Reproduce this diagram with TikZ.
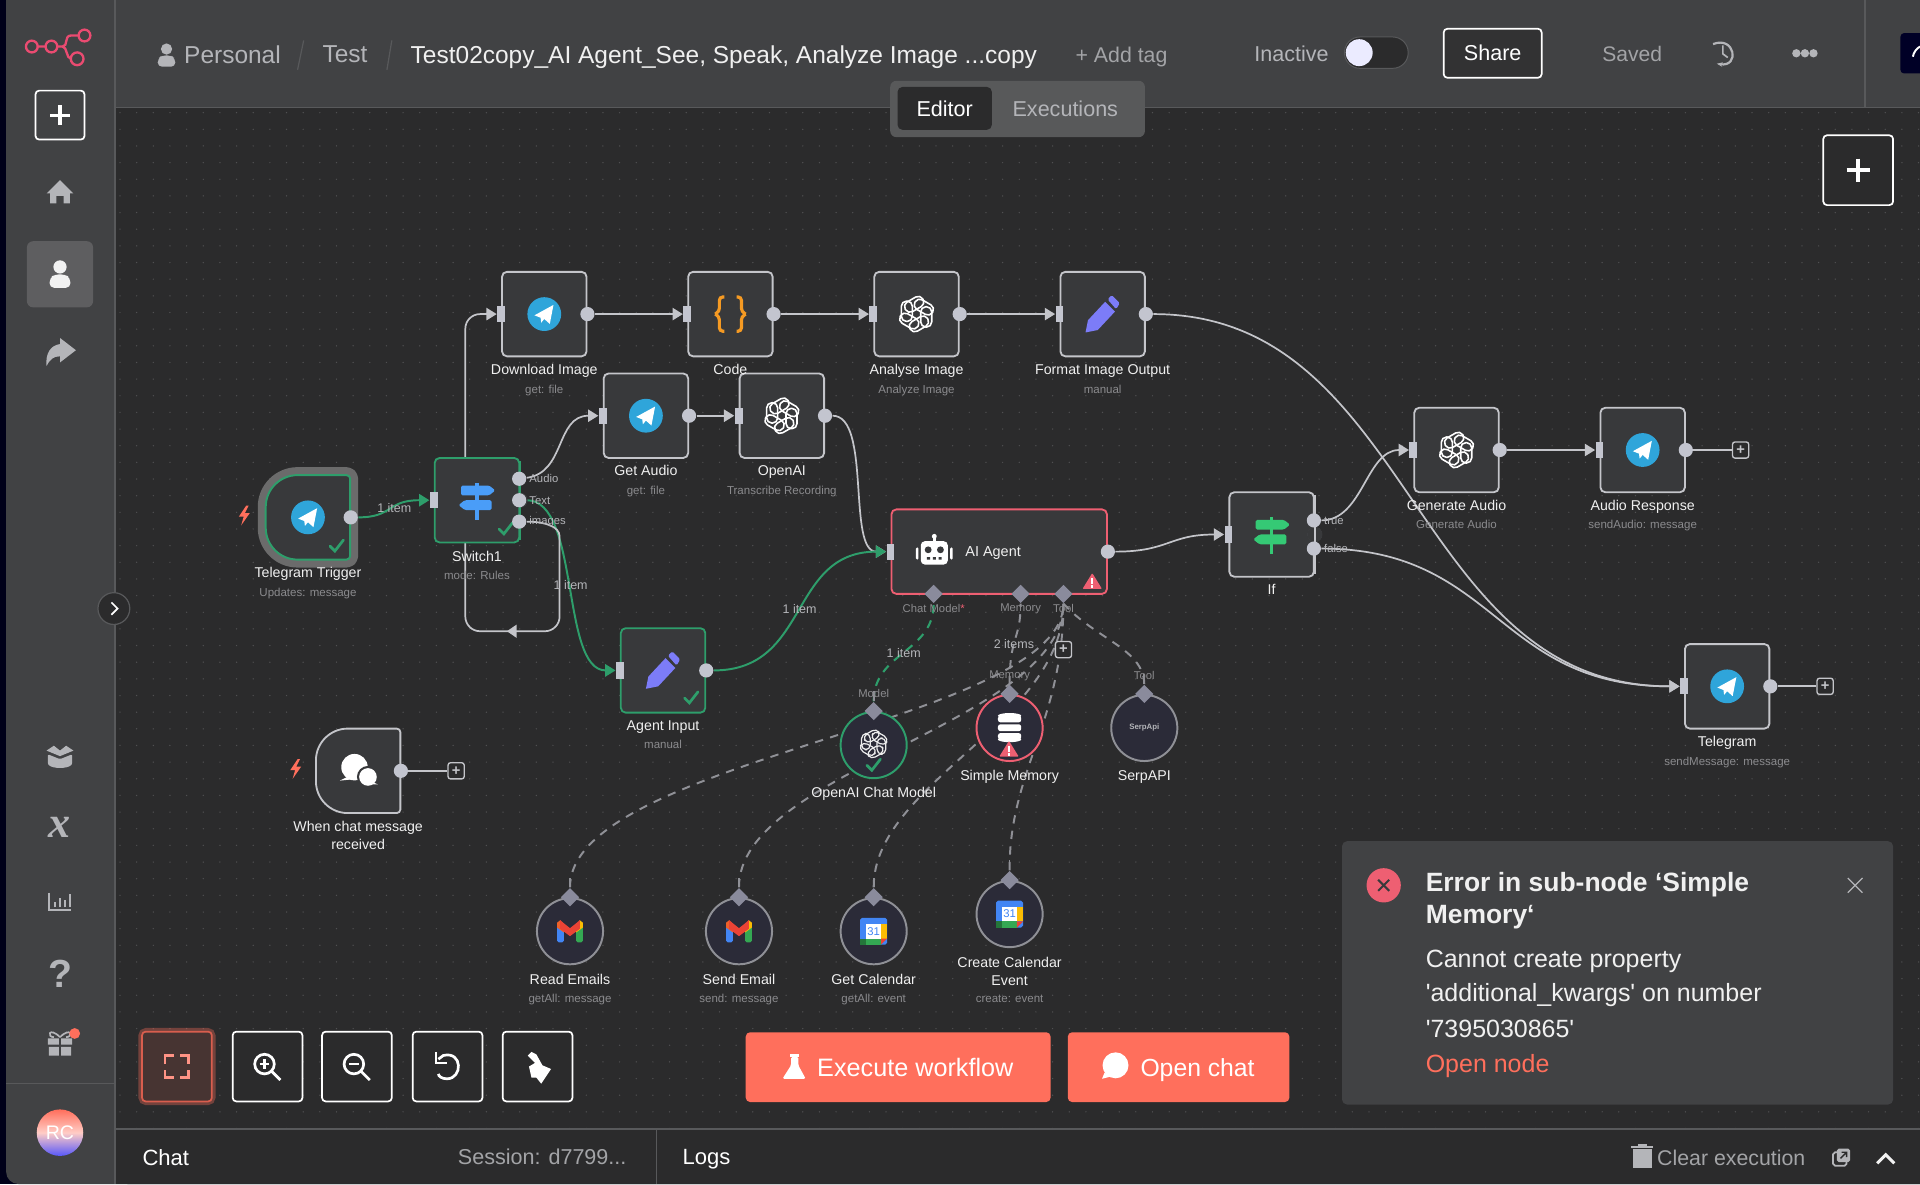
\documentclass[tikz,border=0pt]{standalone}
\usepackage{fontspec}
\setmainfont{Liberation Sans}
\newfontfamily\serifx{Liberation Serif}
\newfontfamily\lsans{Liberation Sans}
\usetikzlibrary{arrows.meta,shapes.geometric,calc}
\pgfdeclarelayer{bg}\pgfdeclarelayer{conn}\pgfsetlayers{bg,conn,main}
\definecolor{canvas}{HTML}{2B2B2C}
\definecolor{panel}{HTML}{414244}
\definecolor{sep}{HTML}{58595B}
\definecolor{griddot}{HTML}{505052}
\definecolor{nfill}{HTML}{38393B}
\definecolor{nline}{HTML}{C4C5CA}
\definecolor{okgreen}{HTML}{2E9E6B}
\definecolor{errred}{HTML}{EE5F72}
\definecolor{txtw}{HTML}{F0F0F0}
\definecolor{txts}{HTML}{8B8B8E}
\definecolor{txtm}{HTML}{A3A4A7}
\definecolor{uig}{HTML}{B4B5B9}
\definecolor{port}{HTML}{C3C5CF}
\definecolor{subfill}{HTML}{2B2B38}
\definecolor{subline}{HTML}{8F9096}
\definecolor{dia}{HTML}{8A8B9C}
\definecolor{tgblue}{HTML}{2FA5DA}
\definecolor{purple1}{HTML}{7C7CF8}
\definecolor{coral}{HTML}{FF6F5C}
\definecolor{pink1}{HTML}{EA4B71}
\definecolor{sblue}{HTML}{4A9DF8}
\definecolor{sgreen}{HTML}{35C975}
\definecolor{gred}{HTML}{EA4335}
\definecolor{gblue}{HTML}{4285F4}
\definecolor{ggreen}{HTML}{34A853}
\definecolor{gyel}{HTML}{FBBC04}
\definecolor{brace}{HTML}{F59A23}
\tikzset{
  x=0.5pt,y=-0.5pt,
  nbox/.style={draw=nline,fill=nfill,line width=.75pt,rounded corners=2pt,minimum size=34.5pt,inner sep=0},
  inport/.style={fill=port,minimum width=3.2pt,minimum height=6.6pt,inner sep=0},
  outport/.style={circle,fill=port,minimum size=5.8pt,inner sep=0},
  ntitle/.style={text=txtw,font=\fontsize{5.8}{7.4}\selectfont,align=center,inner sep=0,text height=.74em,text depth=.2em,yshift=.85pt},
  ntitle2/.style={text=txtw,font=\fontsize{5.8}{7.4}\selectfont,align=center,inner sep=0},
  nsub/.style={text=txts,font=\fontsize{4.7}{6}\selectfont,align=center,inner sep=0,text height=.74em,text depth=.2em,yshift=.85pt},
  nport/.style={text=txts,font=\fontsize{4.6}{6}\selectfont,inner sep=0},
  wlab/.style={text=uig,font=\fontsize{5.1}{6}\selectfont,inner sep=0},
  wire/.style={draw=nline,line width=.7pt,-{Triangle[length=4.2pt,width=5pt]}},
  okwire/.style={draw=okgreen,line width=.8pt,-{Triangle[length=4.2pt,width=5pt]}},
  plain/.style={draw=nline,line width=.7pt},
  subwire/.style={draw=subline,line width=.8pt,dash pattern=on 3.4pt off 3pt},
  oksub/.style={draw=okgreen,line width=.85pt,dash pattern=on 3.4pt off 3pt},
  stub/.style={draw=subline,line width=.7pt},
  subn/.style={circle,draw=subline,fill=subfill,line width=.8pt,minimum size=27pt,inner sep=0},
  dia/.style={diamond,fill=dia,minimum size=7.6pt,inner sep=0},
  plusb/.style={draw=nline,fill=canvas,line width=.55pt,rounded corners=1pt,minimum size=6.6pt,inner sep=0,
     font=\fontsize{6}{6}\selectfont\bfseries,text=nline},
  tool/.style={draw=white,fill=canvas,line width=.7pt,rounded corners=1.5pt,minimum size=28.5pt,inner sep=0},
  ui/.style={inner sep=0,font=\fontsize{10}{12}\selectfont,text=uig},
  uiw/.style={inner sep=0,font=\fontsize{10}{12}\selectfont,text=txtw},
  chk/.style={draw=okgreen,line width=1.1pt,line cap=round},
}
\newcommand{\wnode}[4][]{\node[nbox,#1] (#2) at (#3,#4) {};\node[inport] (#2-i) at (#2.west) {};\node[outport] (#2-o) at (#2.east) {};}
\newcommand{\okmark}[2]{\draw[chk] (#1,#2) ++(-5,0) -- ++(4,4) -- ++(7,-9);}
\newcommand{\warnmark}[2]{\begin{scope}[shift={(#1,#2)}]\fill[errred,rounded corners=.4pt] (0,-7) -- (8,6) -- (-8,6) -- cycle;\fill[white] (-1,-3) rectangle (1,2);\fill[white] (-1,3) rectangle (1,5);\end{scope}}
\newcommand{\bolt}[2]{\fill[coral] (#1,#2) ++(1,-9) -- ++(-6,9) -- ++(4,0) -- ++(-2,7) -- ++(7,-10) -- ++(-4,0) -- ++(3,-6) -- cycle;}
\newcommand{\tgicon}[1]{\begin{scope}[shift={(#1)}]\fill[tgblue] (0,0) circle (6.9pt);\fill[white] (-8,1) -- (7.5,-7.5) -- (4.5,8) -- (0,4) -- (-2.5,7) -- (-3,3) -- cycle;\end{scope}}
\newcommand{\gptknot}[3]{\begin{scope}[shift={(#1)},scale=#2]\foreach \a in {0,60,...,300}{\draw[#3,line join=round,rotate=\a,rounded corners=2.1pt] (1.7pt,-5.3pt) rectangle (6.2pt,3pt);}\end{scope}}
\newcommand{\pencil}[1]{\begin{scope}[shift={(#1)}]\fill[purple1] (-14,15) -- (-12,5) -- (2,-10) -- (10,-2) -- (-4,13) -- cycle;\fill[purple1,rounded corners=.6pt] (4,-12) -- (7.5,-15.5) -- (14,-9) -- (11,-4) -- cycle;\end{scope}}
\newcommand{\signpost}[2]{\begin{scope}[shift={(#1)}]\fill[#2] (-1.5,-14) rectangle (1.5,16);\fill[#2,rounded corners=.6pt] (-13,-12) -- (10,-12) -- (15,-8) -- (10,-4) -- (-13,-4) -- cycle;\fill[#2,rounded corners=.6pt] (12,0) -- (-10,0) -- (-15,4) -- (-10,8) -- (12,8) -- cycle;\end{scope}}
\newcommand{\usericon}[4]{\begin{scope}[shift={(#1,#2)},scale=#3]\fill[#4] (0,-7) circle (2.7pt);\fill[#4,rounded corners=1.8pt] (-8.5,10) -- (-8.5,2) -- (-4,-1) -- (4,-1) -- (8.5,2) -- (8.5,10) -- cycle;\end{scope}}
\begin{document}
\begin{tikzpicture}
\useasboundingbox (0,0) rectangle (1568,966.93);
\begin{pgfonlayer}{bg}
\fill[black!90!blue] (0,0) rectangle (1568,966.93);
\fill[panel,rounded corners=5pt] (5,-20) rectangle (1600,966.93);
\fill[canvas,rounded corners=5pt] (94,88) rectangle (1600,966.93);
\fill[canvas] (94,88) rectangle (1568,930);
\foreach \i in {0,...,108}{\foreach \j in {0,...,61}{\fill[griddot] ({98+13.6*\i},{92+13.6*\j}) circle (.3pt);}}
\fill[canvas] (94,923) rectangle (1566,966.93);
\draw[sep,line width=.6pt] (94,88) -- (1568,88);
\draw[sep,line width=.5pt] (94,0) -- (94,966.93);
\draw[sep,line width=.6pt] (94,922) -- (1568,922);
\draw[sep,line width=.6pt] (536,922) -- (536,966.93);
\draw[sep,line width=.5pt] (1523,0) -- (1523,88);
\draw[sep,line width=.5pt] (5,885) -- (94,885);
\end{pgfonlayer}
% ---------- header
\draw[pink1,line width=.95pt] (26,38) circle (2.4pt) (42,38) circle (2.4pt) (63,48) circle (2.6pt) (69,29) circle (2.4pt);
\draw[pink1,line width=.95pt] (31,38) -- (37,38) (47,38) -- (51,38) .. controls (56,38) and (52,29) .. (58,29) -- (64,29) (51,38) .. controls (55,38) and (54,48) .. (58,48);
\usericon{136}{46}{.85}{uig}
\node[ui,anchor=west] (hper) at (150,44.5) {Personal};
\draw[sep,line width=.5pt] (243,57) -- (248,33) (316,57) -- (320,33);
\node[ui,anchor=west] (htest) at (263,44.5) {Test};
\node[uiw,anchor=west] (htitle) at (335,46.5) {Test02copy\_AI Agent\_See, Speak, Analyze Image ...copy};
\node[ui,anchor=west,font=\fontsize{8.7}{10}\selectfont,text=txtm] (htag) at (878,46.5) {+ Add tag};
\node[ui,anchor=west,font=\fontsize{8.8}{10}\selectfont] (hina) at (1024,44) {Inactive};
\node[fill=canvas,draw=sep,line width=.4pt,rounded corners=6.3pt,minimum width=26pt,minimum height=12.8pt,inner sep=0] (htog) at (1124,43) {};
\node[circle,fill=white!92!blue,minimum size=11pt,inner sep=0] (hknob) at (1110,43) {};
\node[draw=white,fill=canvas!70!panel,line width=.7pt,rounded corners=1.5pt,minimum width=40pt,minimum height=20pt,inner sep=0,font=\fontsize{8.8}{10}\selectfont,text=white] (hshare) at (1219,43.5) {Share};
\node[ui,font=\fontsize{8.6}{10}\selectfont,text=txtm] (hsaved) at (1333,44) {Saved};
\draw[uig,line width=.9pt,->,>={Stealth[length=2.4pt]}] (1399,36) .. controls (1417,29) and (1421,55) .. (1402,52);
\draw[uig,line width=.7pt] (1407,37) -- (1407,44) -- (1411,47);
\fill[uig] (1467,43.5) circle (1.7pt) (1474,43.5) circle (1.7pt) (1481,43.5) circle (1.7pt);
\fill[black!85!blue,rounded corners=1.5pt] (1552,27) rectangle (1575,60);
\draw[white,line width=.8pt] (1568,38) arc[start angle=120,end angle=170,radius=6pt];
% tabs
\node[fill=panel!88!white,rounded corners=2.5pt,minimum width=104pt,minimum height=23pt,inner sep=0] (tabs) at (831,89) {};
\node[fill=canvas,rounded corners=2pt,minimum width=38.5pt,minimum height=17.5pt,inner sep=0,font=\fontsize{8.8}{10}\selectfont,text=white] (teditor) at (771.5,88.5) {Editor};
\node[ui,font=\fontsize{8.8}{10}\selectfont] (texec) at (870,88.5) {Executions};
% ---------- sidebar
\node[tool,minimum size=20pt,fill=panel] (splus) at (49,94) {};
\draw[white,line width=1.3pt] (41,94) -- (57,94) (49,86) -- (49,102);
\fill[uig] (49,147) -- (60,158) -- (57,158) -- (57,166) -- (52,166) -- (52,160) -- (46,160) -- (46,166) -- (41,166) -- (41,158) -- (38,158) -- cycle;
\fill[panel!85!white,rounded corners=2.5pt] (22,197) rectangle (76,251);
\usericon{49}{225}{1}{white!90!gray}
\fill[uig] (49,276) -- (62,286) -- (49,296) -- (49,291) .. controls (44,291) and (41,293) .. (38,299) .. controls (37,289) and (41,282) .. (49,281) -- cycle;
\fill[uig,rounded corners=.5pt] (39,616) -- (49,620) -- (59,616) -- (59,624) .. controls (55,628) and (43,628) .. (39,624) -- cycle;
\fill[uig] (38,613) -- (44,609) -- (49,613) -- (54,609) -- (60,613) -- (49,617.5) -- cycle;
\node[inner sep=0,font=\serifx\itshape\bfseries\fontsize{18}{18}\selectfont,text=uig] (svar) at (49,676) {x};
\draw[uig,line width=.9pt] (40,729) -- (40,743) -- (58,743);
\draw[uig,line width=1pt] (45,741) -- (45,737) (49,741) -- (49,733) (53,741) -- (53,735) (57,741) -- (57,730);
\node[inner sep=0,font=\fontsize{16}{16}\selectfont\bfseries,text=uig] (shelp) at (49,795) {?};
\fill[uig] (39,848) rectangle (48,853) (50,848) rectangle (59,853) (40,855) rectangle (48,862) (50,855) rectangle (58,862);
\draw[uig,line width=.7pt] (49,847) .. controls (40,838) and (38,847) .. (44,847) (49,847) .. controls (58,838) and (60,847) .. (54,847);
\fill[coral] (61,844) circle (2.2pt);
\shade[top color=coral,bottom color=purple1!70!blue,middle color=coral!35!white] (49,925) circle (9.5pt);
\node[inner sep=0,font=\fontsize{8}{9}\selectfont,text=white] (savatar) at (49,925) {RC};
\node[circle,draw=sep,fill=canvas,line width=.5pt,minimum size=13pt,inner sep=0] (scoll) at (93,497) {};
\draw[white,line width=.7pt] (91,492) -- (96,497) -- (91,502);
% ---------- workflow nodes
\wnode{dl}{444.5}{256.5}
\wnode{code}{596.5}{256.5}
\wnode{an}{748.5}{256.5}
\wnode{fmt}{900.5}{256.5}
\wnode{ga}{527.5}{339.5}
\wnode{oa}{638.5}{339.5}
\wnode[draw=okgreen]{sw}{389.5}{408.5}
\wnode[draw=okgreen]{ai}{541.5}{547.5}
\wnode{ifn}{1038.5}{436.5}
\wnode{gen}{1189.5}{367.5}
\wnode{ar}{1341.5}{367.5}
\wnode{tg}{1410.5}{560.5}
\node[nbox,draw=errred,minimum width=88pt] (agent) at (816,450.5) {};
\node[inport] (agent-i) at (agent.west) {};
\node[outport] (agent-o) at (agent.east) {};
% triggers
\node[minimum size=34.5pt,inner sep=0] (tt) at (251.5,422.5) {};
\begin{scope}[shift={(tt.center)}]
\draw[draw=white!30!canvas,line width=6.5pt,fill=nfill,line join=round] (-4.25pt,17.25pt) -- (15.75pt,17.25pt) arc[start angle=90,end angle=0,radius=1.5pt] -- (17.25pt,-15.75pt) arc[start angle=0,end angle=-90,radius=1.5pt] -- (-4.25pt,-17.25pt) arc[start angle=-90,end angle=-180,radius=13pt] -- (-17.25pt,4.25pt) arc[start angle=180,end angle=90,radius=13pt] -- cycle;
\draw[draw=okgreen,line width=.8pt,fill=nfill] (-4.25pt,17.25pt) -- (15.75pt,17.25pt) arc[start angle=90,end angle=0,radius=1.5pt] -- (17.25pt,-15.75pt) arc[start angle=0,end angle=-90,radius=1.5pt] -- (-4.25pt,-17.25pt) arc[start angle=-90,end angle=-180,radius=13pt] -- (-17.25pt,4.25pt) arc[start angle=180,end angle=90,radius=13pt] -- cycle;
\end{scope}
\node[outport] (tt-o) at (tt.east) {};
\node[minimum size=34.5pt,inner sep=0] (ct) at (292.5,629.5) {};
\begin{scope}[shift={(ct.center)}]
\draw[draw=nline,line width=.75pt,fill=nfill] (-4.25pt,17.25pt) -- (15.75pt,17.25pt) arc[start angle=90,end angle=0,radius=1.5pt] -- (17.25pt,-15.75pt) arc[start angle=0,end angle=-90,radius=1.5pt] -- (-4.25pt,-17.25pt) arc[start angle=-90,end angle=-180,radius=13pt] -- (-17.25pt,4.25pt) arc[start angle=180,end angle=90,radius=13pt] -- cycle;
\end{scope}
\node[outport] (ct-o) at (ct.east) {};
\bolt{200}{422}
\bolt{242}{629}
% icons
\tgicon{tt.center}\tgicon{dl.center}\tgicon{ga.center}\tgicon{ar.center}\tgicon{tg.center}
\gptknot{an.center}{1}{white,line width=.65pt}
\gptknot{oa.center}{1}{white,line width=.65pt}
\gptknot{gen.center}{1}{white,line width=.65pt}
\begin{scope}[shift={(code.center)}]
\draw[brace,line width=1.3pt,rounded corners=1.4pt] (-5,-14) -- (-9,-14) -- (-9,-2) -- (-12.5,0);
\draw[brace,line width=1.3pt,rounded corners=1.4pt] (-12.5,0) -- (-9,2) -- (-9,14) -- (-5,14);
\draw[brace,line width=1.3pt,rounded corners=1.4pt] (5,-14) -- (9,-14) -- (9,-2) -- (12.5,0);
\draw[brace,line width=1.3pt,rounded corners=1.4pt] (12.5,0) -- (9,2) -- (9,14) -- (5,14);
\end{scope}
\pencil{fmt.center}\pencil{ai.center}
\signpost{sw.center}{sblue}
\signpost{ifn.center}{sgreen}
\okmark{274.5}{446}\okmark{412.5}{432}\okmark{564}{570}
\warnmark{892}{475}
% chat bubble
\begin{scope}[shift={(ct.center)}]
\fill[white] (-3,-3) circle (5.4pt);\fill[white] (-9,5) -- (-15,8) -- (-5,7) -- cycle;
\fill[nfill] (8,5) circle (4.5pt);\fill[white] (8,5) circle (3.6pt);\fill[white] (11,9) -- (16,11) -- (6,11) -- cycle;
\end{scope}
% robot
\begin{scope}[shift={(763,451)}]
\fill[white,rounded corners=1.6pt] (-11,-9) rectangle (11,10);
\fill[white,rounded corners=.5pt] (-15,-4) rectangle (-13,6) (13,-4) rectangle (15,6);
\fill[white] (-1,-13) rectangle (1,-9);\fill[white] (0,-13) circle (1pt);
\fill[nfill] (-5,-2) circle (1.4pt) (5,-2) circle (1.4pt);
\fill[nfill] (-6,4) rectangle (-3.5,6) (-1.2,4) rectangle (1.2,6) (3.5,4) rectangle (6,6);
\end{scope}
\node[ntitle,anchor=west,font=\fontsize{5.9}{8}\selectfont] (agentl) at (788,451) {AI Agent};
% sub nodes
\node[subn,draw=okgreen] (cm) at (713.5,608.5) {};
\node[subn,draw=errred] (sm) at (824.5,594.5) {};
\node[subn] (sp) at (934.5,594.5) {};
\node[subn] (re) at (465.5,760.5) {};
\node[subn] (se) at (603.5,760.5) {};
\node[subn] (gc) at (713.5,760.5) {};
\node[subn] (cc) at (824.5,746.5) {};
\node[dia] (d-cm) at (cm.north) {};
\node[dia] (d-sm) at (sm.north) {};
\node[dia] (d-sp) at (sp.north) {};
\node[dia] (d-re) at (re.north) {};
\node[dia] (d-se) at (se.north) {};
\node[dia] (d-gc) at (gc.north) {};
\node[dia] (d-cc) at (cc.north) {};
\node[dia] (d-chat) at (762.5,485) {};
\node[dia] (d-mem) at (833.5,485) {};
\node[dia] (d-tool) at (868.5,485) {};
\gptknot{713.5,607.5}{.8}{white!85!gray,line width=.5pt}
\okmark{713}{625}
\begin{scope}[shift={(sm.center)}]
\fill[white,rounded corners=1pt] (-9.5,-10) rectangle (9.5,-4.6);\fill[white] (0,-10) ellipse [x radius=4.75pt,y radius=1.1pt];
\fill[white,rounded corners=1pt] (-9.5,-3) rectangle (9.5,2.6);
\fill[white,rounded corners=1pt] (-9.5,4.2) rectangle (9.5,9.4);\fill[white] (0,9.4) ellipse [x radius=4.75pt,y radius=1.1pt];
\end{scope}
\warnmark{824}{612}
\node[inner sep=0,font=\fontsize{3.2}{4}\selectfont\bfseries,text=uig] (spt) at (sp.center) {SerpApi};
% Gmail
\foreach \nm in {re,se}{\begin{scope}[shift={(\nm.center)}]
\fill[gblue,rounded corners=.6pt] (-10.5,-4) rectangle (-5,9);
\fill[ggreen,rounded corners=.6pt] (5,-4) rectangle (10.5,9);
\fill[gyel] (5,-5) -- (8,-9) -- (10.5,-7) -- (10.5,-3) -- (5,1) -- cycle;
\fill[gred!75!gyel] (-10.5,-7) -- (-8,-9) -- (-5,-6) -- (-5,1) -- (-10.5,-3) -- cycle;
\fill[gred] (-8,-9) -- (-5,-6.5) -- (0,-2.5) -- (5,-6.5) -- (8,-9) -- (8,-2) -- (0,4) -- (-8,-2) -- cycle;
\end{scope}}
% Calendar
\foreach \nm in {gc,cc}{\begin{scope}[shift={(\nm.center)}]
\fill[gblue,rounded corners=.8pt] (-11,-11) rectangle (11,11);
\fill[white] (-6,-6) rectangle (6,6);
\fill[gyel] (6,-6) rectangle (11,6);
\fill[ggreen] (-6,6) rectangle (6,11);\fill[ggreen!70!black] (-11,6) rectangle (-6,11);
\fill[gred] (6,6) -- (11,6) -- (6,11) -- cycle;
\node[inner sep=0,font=\fontsize{4.6}{5}\selectfont,text=gblue] (l\nm) at (0,0) {31};
\end{scope}}
% ---------- plus boxes
\node[plusb] (pl-ct) at (372.5,629.5) {+};
\node[plusb] (pl-ar) at (1421.5,367.5) {+};
\node[plusb] (pl-tg) at (1490.5,560.5) {+};
\node[plusb] (pl-tool) at (868.5,530.5) {+};
% switch / if ports
\fill[nfill] (ifn-o) circle (3.1pt);\draw[draw=nline,line width=.75pt] ($(ifn.south east)+(0,1.5pt)$) -- ($(ifn.north east)+(0,-1.5pt)$);
\fill[nfill] (sw-o) circle (3.1pt);\draw[draw=okgreen,line width=.75pt] ($(sw.south east)+(0,1.5pt)$) -- ($(sw.north east)+(0,-1.5pt)$);
\node[outport] (if-t) at (1073,425) {};
\node[outport] (if-f) at (1073,448) {};
\node[outport] (sw-a) at (424,391) {};
\node[outport] (sw-t) at (424,408.5) {};
\node[outport] (sw-m) at (424,426) {};
\node[nport,anchor=west,text=uig] (l-aud) at (432,391) {Audio};
\node[nport,anchor=west,text=uig] (l-txt) at (432,408.5) {Text};
\node[nport,anchor=west,text=uig] (l-img) at (432,426) {images};
\node[nport,anchor=west,text=uig] (l-tr) at (1081,425) {true};
\node[nport,anchor=west,text=uig] (l-fa) at (1081,448) {false};
% ---------- connectors
\begin{pgfonlayer}{conn}
\draw[okwire] (tt-o) .. controls +(35,0) and +(-35,0) .. (sw-i.west);
\draw[wire] (dl-o) -- (code-i.west);
\draw[wire] (code-o) -- (an-i.west);
\draw[wire] (an-o) -- (fmt-i.west);
\draw[wire] (ga-o) -- (oa-i.west);
\draw[wire] (gen-o) -- (ar-i.west);
\draw[wire] (sw-a) .. controls +(38,-5) and +(-35,0) .. (ga-i.west);
\draw[okwire] (sw-t) .. controls +(50,0) and +(-45,0) .. (ai-i.west);
\draw[wire,rounded corners=6pt] (sw-m) .. controls (445,426) and (457,430) .. (457,450) -- (457,515.5) -- (380,515.5) -- (380,256.5) -- (dl-i.west);
\fill[nline] (414,515.5) -- (422,510) -- (422,521) -- cycle;
\draw[wire] (oa-o) .. controls +(38,0) and +(-32,0) .. (agent-i.west);
\draw[okwire] (ai-o) .. controls +(85,0) and +(-80,0) .. (agent-i.west);
\draw[wire] (agent-o) .. controls +(50,0) and +(-45,0) .. (ifn-i.west);
\draw[wire] (if-t) .. controls +(40,0) and +(-35,0) .. (gen-i.west);
\draw[wire] (if-f) .. controls +(150,0) and +(-150,0) .. (tg-i.west);
\draw[wire] (fmt-o) .. controls +(220,0) and +(-220,0) .. (tg-i.west);
\draw[plain] (ar-o) -- (pl-ar);
\draw[plain] (tg-o) -- (pl-tg);
\draw[plain] (ct-o) -- (pl-ct);
\draw[oksub] (d-cm.north) .. controls +(0,-40) and +(0,40) .. (d-chat.south);
\draw[subwire] (d-sm.north) .. controls +(0,-40) and +(0,30) .. (d-mem.south);
\draw[subwire] (d-sp.north) .. controls (934,530) and (895,522) .. (d-tool.south);
\draw[subwire] (d-re.north) .. controls (465,620) and (868,590) .. (d-tool.south);
\draw[subwire] (d-se.north) .. controls (603,630) and (868,590) .. (d-tool.south);
\draw[subwire] (d-gc.north) .. controls (713,640) and (868,590) .. (d-tool.south);
\draw[subwire] (d-cc.north) .. controls (824,630) and (868,590) .. (d-tool.south);
\foreach \n in {re,se,gc,cc,cm,sp,sm}{\draw[stub] (d-\n.north) -- ++(0,-8);}
\end{pgfonlayer}
% ---------- labels
\node[wlab] (w1) at (322,415) {1 item};
\node[wlab] (w2) at (466,477.5) {1 item};
\node[wlab] (w3) at (653,497.5) {1 item};
\node[wlab] (w4) at (738,533) {1 item};
\node[wlab] (w5) at (828,526) {2 items};
\node[ntitle] (t-dl) at (444.5,302.5) {Download Image};
\node[nsub] (s-dl) at (444.5,317.5) {get: file};
\node[ntitle] (t-code) at (596.5,302.5) {Code};
\node[ntitle] (t-an) at (748.5,302.5) {Analyse Image};
\node[nsub] (s-an) at (748.5,317.5) {Analyze Image};
\node[ntitle] (t-fmt) at (900.5,302.5) {Format Image Output};
\node[nsub] (s-fmt) at (900.5,317.5) {manual};
\node[ntitle] (t-ga) at (527.5,385) {Get Audio};
\node[nsub] (s-ga) at (527.5,400.5) {get: file};
\node[ntitle] (t-oa) at (638.5,385) {OpenAI};
\node[nsub] (s-oa) at (638.5,400.5) {Transcribe Recording};
\node[ntitle] (t-tt) at (251.5,468) {Telegram Trigger};
\node[nsub] (s-tt) at (251.5,483.5) {Updates: message};
\node[ntitle] (t-sw) at (389.5,454.5) {Switch1};
\node[nsub] (s-sw) at (389.5,469.5) {mode: Rules};
\node[ntitle] (t-ai) at (541.5,592.5) {Agent Input};
\node[nsub] (s-ai) at (541.5,607.5) {manual};
\node[ntitle2] (t-ct) at (292.5,682) {When chat message\\received};
\node[ntitle] (t-ifn) at (1038.5,481.5) {If};
\node[ntitle] (t-gen) at (1189.5,413) {Generate Audio};
\node[nsub] (s-gen) at (1189.5,428) {Generate Audio};
\node[ntitle] (t-ar) at (1341.5,413) {Audio Response};
\node[nsub] (s-ar) at (1341.5,428) {sendAudio: message};
\node[ntitle] (t-tg) at (1410.5,606) {Telegram};
\node[nsub] (s-tg) at (1410.5,621.5) {sendMessage: message};
\node[ntitle] (t-cm) at (713.5,647.5) {OpenAI Chat Model};
\node[ntitle] (t-sm) at (824.5,634) {Simple Memory};
\node[ntitle] (t-sp) at (934.5,634) {SerpAPI};
\node[ntitle] (t-re) at (465.5,800) {Read Emails};
\node[nsub] (s-re) at (465.5,815) {getAll: message};
\node[ntitle] (t-se) at (603.5,800) {Send Email};
\node[nsub] (s-se) at (603.5,815) {send: message};
\node[ntitle] (t-gc) at (713.5,800) {Get Calendar};
\node[nsub] (s-gc) at (713.5,815) {getAll: event};
\node[ntitle2] (t-cc) at (824.5,793) {Create Calendar\\Event};
\node[nsub] (s-cc) at (824.5,815) {create: event};
\node[nport] (p-chat) at (762.5,497) {Chat Model\textcolor{errred}{*}};
\node[nport] (p-mem) at (833.5,497) {Memory};
\node[nport] (p-tool) at (868.5,497) {Tool};
\node[nport] (p-model) at (713.5,566) {Model};
\node[nport] (p-mem2) at (824.5,552) {Memory};
\node[nport] (p-tool2) at (934.5,552) {Tool};
% ---------- canvas top-right plus
\node[tool] (cplus) at (1517.5,139) {};
\draw[white,line width=1.4pt] (1508,139) -- (1527,139) (1517.5,129.5) -- (1517.5,148.5);
% ---------- bottom tools
\node[tool,draw=coral,draw opacity=.35,line width=3.5pt,fill=none,minimum size=28pt] (bhalo) at (144.5,871) {};
\node[tool,draw=coral!85!black,fill=coral!13!canvas] (bfit) at (144.5,871) {};
\draw[coral!75!white,line width=.9pt] (135,869) -- (135,862) -- (142,862) (147,862) -- (154,862) -- (154,869) (154,874) -- (154,880) -- (147,880) (142,880) -- (135,880) -- (135,874);
\node[tool] (bzi) at (218.5,871) {};
\node[tool] (bzo) at (291.5,871) {};
\node[tool] (bund) at (365.5,871) {};
\node[tool] (bcl) at (439,871) {};
\draw[white,line width=1.1pt] (216,869) circle (4pt) (222,875) -- (229,882);
\draw[white,line width=.9pt] (212,869) -- (220,869) (216,865) -- (216,873);
\draw[white,line width=1.1pt] (289,869) circle (4pt) (295,875) -- (302,882);
\draw[white,line width=.9pt] (285,869) -- (293,869);
\draw[white,line width=1.1pt] (358,865) -- (362,862) .. controls (378,858) and (378,881) .. (365,881) .. controls (361,881) and (358,879) .. (358,877);
\draw[white,line width=1pt] (356,859) -- (356,868) -- (365,868);
\fill[white] (438,861) -- (443,870) -- (450,873) -- (442,885) -- (438,880) -- (434,880) -- (432,871) -- (437,868) -- (431,862) -- (434,859) -- cycle;
% ---------- run buttons
\node[fill=coral,rounded corners=1.8pt,minimum width=124.5pt,minimum height=28.5pt,inner sep=0] (bexec) at (733.5,871.5) {};
\node[fill=coral,rounded corners=1.8pt,minimum width=90.5pt,minimum height=28.5pt,inner sep=0] (bchat) at (962.5,871.5) {};
\node[uiw,text=white,anchor=west,font=\fontsize{10.3}{12}\selectfont] (lexec) at (667,871.5) {Execute workflow};
\node[uiw,text=white,anchor=west,font=\fontsize{10.1}{12}\selectfont] (lchat) at (931,873.5) {Open chat};
\fill[white] (645.5,861) rectangle (652.5,863);
\fill[white,rounded corners=.6pt] (646,863) -- (652,863) -- (652,870) -- (658,881) -- (639,881) -- (646,870) -- cycle;
\fill[white] (911,870) circle (5.3pt);\fill[white] (902,876) -- (900,881) -- (908,879) -- cycle;
% ---------- bottom bar
\node[uiw,text=white,anchor=west,font=\fontsize{9}{11}\selectfont] (lchatb) at (116,945) {Chat};
\node[ui,anchor=east,text=txtm,font=\fontsize{8.8}{11}\selectfont] (lsess) at (512,945) {Session: d7799...};
\node[uiw,text=white,anchor=west,font=\fontsize{9}{11}\selectfont] (llogs) at (557,947) {Logs};
\fill[uig] (1334,938) rectangle (1349,954);\fill[uig] (1332,935.5) rectangle (1350,937.5);\fill[uig] (1338,934) rectangle (1345,936);
\node[ui,anchor=west,text=txtm,font=\fontsize{8.7}{11}\selectfont] (lclear) at (1353,945.5) {Clear execution};
\draw[uig,line width=.7pt,rounded corners=.8pt] (1497,941) rectangle (1508,952);
\fill[uig,rounded corners=.8pt] (1500,938) rectangle (1511,949);
\draw[canvas,line width=.6pt] (1503,946) -- (1508,941) (1504,941) -- (1508,941) -- (1508,945);
\draw[white!90!gray,line width=1.2pt] (1533,950) -- (1540,943) -- (1547,950);
% ---------- error toast
\node[fill=panel,rounded corners=2pt,minimum width=225pt,minimum height=107.5pt,inner sep=0] (toast) at (1321,794.5) {};
\fill[errred] (1130,723) circle (7pt);
\draw[nfill,line width=.8pt] (1125.5,718.5) -- (1134.5,727.5) (1125.5,727.5) -- (1134.5,718.5);
\node[inner sep=0,anchor=west,font=\fontsize{10.8}{13}\selectfont\bfseries,text=txtw] (et1) at (1164,722.5) {Error in sub-node ‘Simple};
\node[inner sep=0,anchor=west,font=\fontsize{10.8}{13}\selectfont\bfseries,text=txtw] (et2) at (1164,749) {Memory‘};
\node[inner sep=0,anchor=west,font=\fontsize{10.2}{13}\selectfont,text=txtw] (eb1) at (1164,785) {Cannot create property};
\node[inner sep=0,anchor=west,font=\lsans\fontsize{10.2}{13}\selectfont,text=txtw] (eb2) at (1164,813) {'additional\_kwargs' on number};
\node[inner sep=0,anchor=west,font=\lsans\fontsize{10.2}{13}\selectfont,text=txtw] (eb3) at (1164,840.5) {'7395030865'};
\node[inner sep=0,anchor=west,font=\fontsize{10.2}{13}\selectfont,text=coral] (eb4) at (1164,870.5) {Open node};
\draw[uig,line width=.5pt] (1509,717) -- (1521,729) (1509,729) -- (1521,717);
\end{tikzpicture}
\end{document}
